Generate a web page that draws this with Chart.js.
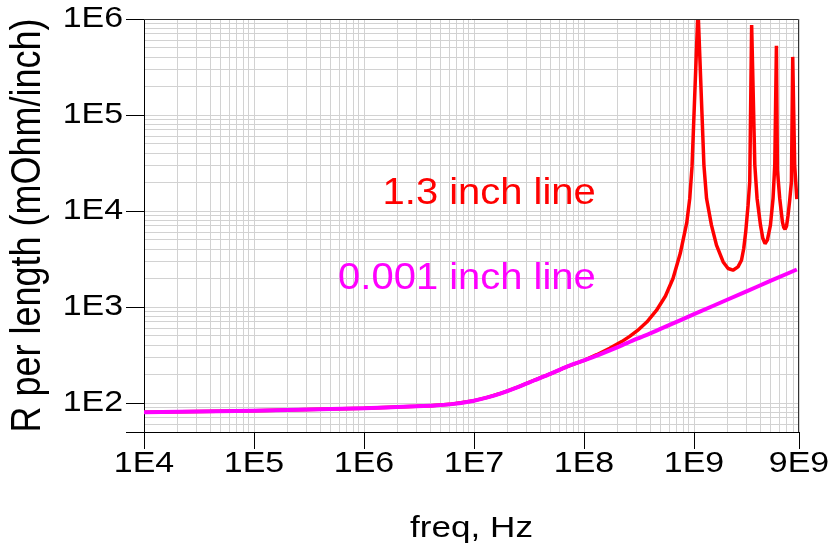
<!DOCTYPE html>
<html>
<head>
<meta charset="utf-8">
<title>R per length vs frequency</title>
<script src="https://cdn.jsdelivr.net/npm/chart.js@4.4.1/dist/chart.umd.min.js"></script>
<style>
  html, body { margin: 0; padding: 0; background: #ffffff; }
  #wrap { width: 832px; height: 545px; }
</style>
</head>
<body>
<div id="wrap"><canvas id="chart" width="832" height="545"></canvas></div>
<script>
// Axis tick values and their labels
const freqTicks = [1e4, 1e5, 1e6, 1e7, 1e8, 1e9, 9e9];
const freqTickLabels = ['1E4', '1E5', '1E6', '1E7', '1E8', '1E9', '9E9'];
const rTicks = [1e2, 1e3, 1e4, 1e5, 1e6];
const rTickLabels = ['1E2', '1E3', '1E4', '1E5', '1E6'];

// 0.001 inch line: resistance per length (mOhm/inch) vs frequency (Hz)
const thinName = '0.001 inch line';
const thinFreq = [1e4, 1e5, 1e6, 2e6, 3e6, 4e6, 6e6, 1e7, 1.3e7, 1.7e7, 2.5e7, 3.5e7, 5e7, 7e7,
  1e8, 1.4e8, 2e8, 3e8, 4e8, 6e8, 1e9, 2e9, 3e9, 5e9, 8.6e9];
const thinR = [80.5, 83.3, 88.5, 91, 92.5, 94, 97, 106, 114, 125, 147, 172, 203, 240,
  278, 322, 380, 466, 533, 652, 844, 1191, 1458, 1884, 2460];

// 1.3 inch line: same quantity, with the standing-wave resonances
const longName = '1.3 inch line';
const longFreq = [1e4, 1e5, 1e6, 2e6, 3e6, 4e6, 6e6, 1e7, 1.3e7, 1.7e7, 2.5e7, 3.5e7, 5e7, 7e7,
  1e8, 1.305e8, 1.71e8, 2.2e8, 2.6e8, 3.07e8, 3.72e8, 4.55e8, 5.5e8, 6.44e8,
  7.5e8, 8.6e8, 9.14e8, 9.59e8,
  1.087e9, 1.23e9, 1.30e9, 1.44e9, 1.60e9, 1.84e9, 2.04e9, 2.26e9, 2.51e9, 2.70e9, 2.83e9,
  2.95e9, 3.10e9, 3.21e9,
  3.34e9, 3.57e9, 3.74e9, 4.02e9, 4.22e9, 4.42e9, 4.64e9, 4.95e9, 5.23e9, 5.42e9,
  5.61e9, 5.73e9, 6.01e9, 6.36e9, 6.53e9, 6.72e9, 6.93e9, 7.16e9, 7.41e9, 7.68e9,
  7.89e9, 8.22e9, 8.6e9];
const longR = [80.5, 83.3, 88.5, 91, 92.5, 94, 97, 106, 114, 125, 147, 172, 203, 240,
  278, 319, 372, 437, 495, 571, 698, 922, 1303, 1982,
  3631, 7620, 13460, 29170,
  1270000, 30100, 13500, 7130, 4410, 2950, 2520, 2420, 2620, 3075, 4070,
  6070, 11500, 20200,
  867000, 30100, 13600, 7130, 5210, 4570, 4980, 7130, 13600, 30100,
  525000, 26700, 13600, 7710, 6790, 6470, 6960, 9060, 13000, 20100,
  403000, 30100, 13300];

const FONT = "'Liberation Sans', Arial, Helvetica, sans-serif";
const GRID = '#d2d2d2';

// 1-2-...-9 log ticks between lo and hi
function logTicks(lo, hi) {
  const out = [];
  for (let e = Math.floor(Math.log10(lo)); e <= Math.ceil(Math.log10(hi)); e++) {
    for (let m = 1; m < 10; m++) {
      const v = m * Math.pow(10, e);
      if (v >= lo * 0.999 && v <= hi * 1.001) out.push(v);
    }
  }
  return out;
}
function findTick(v, list) {
  return list.findIndex(t => Math.abs(v / t - 1) < 1e-9);
}

// Text in this chart is set in a slightly wide face: widen glyphs horizontally
const widenText = {
  id: 'widenText',
  beforeInit(chart) {
    const ctx = chart.ctx;
    const base = ctx.fillText;
    chart.$widen = 1.17;
    ctx.fillText = function (text, x, y) {
      const k = chart.$widen;
      const m = this.getTransform();
      const px = m.a * x + m.c * y + m.e;
      this.save();
      this.setTransform(new DOMMatrix([k, 0, 0, 1, px * (1 - k), 0]).multiply(m));
      base.call(this, text, x, y);
      this.restore();
    };
  }
};

// Top and right edges of the plot frame
const plotFrame = {
  id: 'plotFrame',
  afterDatasetsDraw(chart) {
    const { ctx, chartArea: a } = chart;
    ctx.save();
    ctx.strokeStyle = '#333333';
    ctx.lineWidth = 1;
    ctx.beginPath();
    ctx.moveTo(a.left, a.top + 0.5);
    ctx.lineTo(a.right - 0.5, a.top + 0.5);
    ctx.lineTo(a.right - 0.5, a.bottom);
    ctx.stroke();
    ctx.restore();
  }
};

// In-plot series names, anchored in data coordinates
const seriesLabels = {
  id: 'seriesLabels',
  afterDatasetsDraw(chart, args, opts) {
    const { ctx, scales: { x, y } } = chart;
    ctx.save();
    chart.$widen = 1.11;
    ctx.font = '36px ' + FONT;
    ctx.textAlign = 'right';
    ctx.textBaseline = 'alphabetic';
    opts.items.forEach(it => {
      ctx.fillStyle = it.color;
      ctx.fillText(it.text, x.getPixelForValue(it.x), y.getPixelForValue(it.y));
    });
    chart.$widen = 1.17;
    ctx.restore();
  }
};

new Chart(document.getElementById('chart'), {
  type: 'line',
  data: {
    datasets: [
      {
        label: longName,
        data: longFreq.map((f, i) => ({ x: f, y: longR[i] })),
        borderColor: '#ff0000',
        borderWidth: 3.5,
        pointRadius: 0,
        tension: 0,
        borderJoinStyle: 'bevel',
        order: 2,
        clip: 0
      },
      {
        label: thinName,
        data: thinFreq.map((f, i) => ({ x: f, y: thinR[i] })),
        borderColor: '#ff00ff',
        borderWidth: 4,
        pointRadius: 0,
        cubicInterpolationMode: 'monotone',
        order: 1,
        clip: 0
      }
    ]
  },
  options: {
    responsive: false,
    animation: false,
    devicePixelRatio: 1,
    layout: { padding: { top: 19, right: 33, bottom: 0, left: 0 } },
    plugins: {
      legend: { display: false },
      tooltip: { enabled: false },
      seriesLabels: {
        items: [
          { text: longName, color: '#ff0000', x: 1.28e8, y: 1.18e4 },
          { text: thinName, color: '#ff00ff', x: 1.28e8, y: 1535 }
        ]
      }
    },
    scales: {
      x: {
        type: 'logarithmic',
        min: 1e4,
        max: 9e9,
        bounds: 'data',
        afterBuildTicks: s => { s.ticks = logTicks(1e4, 9e9).map(v => ({ value: v })); },
        afterFit: s => { s.height = 113; },
        grid: {
          color: GRID,
          lineWidth: 1,
          drawTicks: true,
          tickLength: 17,
          tickWidth: 1,
          tickColor: c => (c.tick && findTick(c.tick.value, freqTicks) >= 0) ? '#000000' : 'rgba(0,0,0,0)'
        },
        border: { display: true, color: '#000000', width: 1 },
        ticks: {
          autoSkip: false,
          maxRotation: 0,
          minRotation: 0,
          padding: 0,
          color: '#000000',
          font: { family: FONT, size: 29, lineHeight: 1 },
          callback: v => { const i = findTick(v, freqTicks); return i >= 0 ? freqTickLabels[i] : ''; }
        },
        title: {
          display: true,
          text: 'freq, Hz',
          color: '#000000',
          font: { family: FONT, size: 30, lineHeight: 1 },
          padding: { top: 0, bottom: 1 }
        }
      },
      y: {
        type: 'logarithmic',
        min: 50,
        max: 1e6,
        bounds: 'data',
        afterBuildTicks: s => { s.ticks = logTicks(50, 1e6).map(v => ({ value: v })); },
        afterFit: s => { s.width = 144; },
        grid: {
          color: GRID,
          lineWidth: 1,
          drawTicks: true,
          tickLength: 18,
          tickWidth: 1,
          tickColor: c => (c.tick && (c.index === 0 || findTick(c.tick.value, rTicks) >= 0)) ? '#000000' : 'rgba(0,0,0,0)'
        },
        border: { display: true, color: '#000000', width: 1 },
        ticks: {
          autoSkip: false,
          padding: 3,
          color: '#000000',
          font: { family: FONT, size: 29, lineHeight: 1 },
          callback: v => { const i = findTick(v, rTicks); return i >= 0 ? rTickLabels[i] : ''; }
        },
        title: {
          display: true,
          text: 'R per length (mOhm/inch)',
          color: '#000000',
          font: { family: FONT, size: 36, lineHeight: 1 },
          padding: { top: 10, bottom: 0 }
        }
      }
    }
  },
  plugins: [widenText, plotFrame, seriesLabels]
});
</script>
</body>
</html>
